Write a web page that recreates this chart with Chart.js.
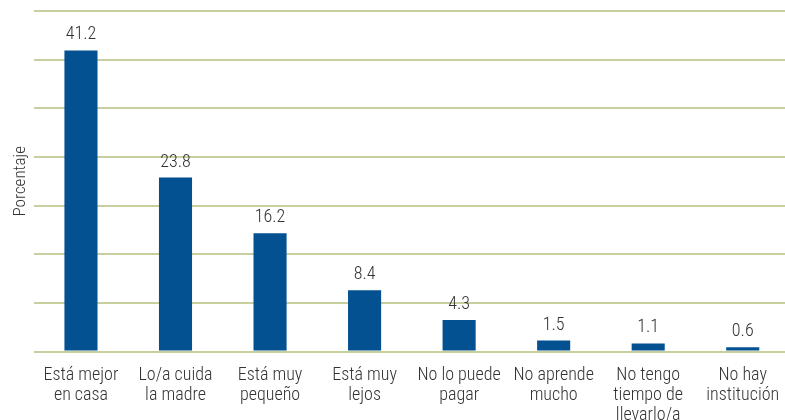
<!DOCTYPE html>
<html>
<head>
<meta charset="utf-8">
<script src="https://cdn.jsdelivr.net/npm/chart.js@4/dist/chart.umd.min.js"></script>
<style>
  html, body { margin: 0; padding: 0; background: #fff; overflow: hidden; }
  #wrap { width: 790px; height: 420px; }
</style>
</head>
<body>
<div id="wrap"><canvas id="razonesChart"></canvas></div>
<script>
// Razones por las que no asiste (porcentaje)
const categorias = [
  ['Está mejor', 'en casa'],
  ['Lo/a cuida', 'la madre'],
  ['Está muy', 'pequeño'],
  ['Está muy', 'lejos'],
  ['No lo puede', 'pagar'],
  ['No aprende', 'mucho'],
  ['No tengo', 'tiempo de', 'llevarlo/a'],
  ['No hay', 'institución']
];
const porcentajes = [41.2, 23.8, 16.2, 8.4, 4.3, 1.5, 1.1, 0.6];
const ejeMax = 46.6;     // tope del eje (sin etiquetas)
const lineasGuia = 7;    // intervalos entre lineas horizontales

const fuente = "'Roboto Condensed', 'Liberation Sans Narrow', 'DejaVu Sans Condensed', sans-serif";

// escribe el valor encima de cada barra
const etiquetasValor = {
  id: 'etiquetasValor',
  afterDatasetsDraw(chart) {
    const ctx = chart.ctx;
    const meta = chart.getDatasetMeta(0);
    ctx.save();
    ctx.font = '300 18px ' + fuente;
    ctx.fillStyle = '#333333';
    ctx.textAlign = 'center';
    ctx.textBaseline = 'alphabetic';
    meta.data.forEach(function (bar, i) {
      ctx.fillText(porcentajes[i].toFixed(1), bar.x, bar.y - 11);
    });
    ctx.restore();
  }
};

document.addEventListener('DOMContentLoaded', function () {
  const ctx = document.getElementById('razonesChart').getContext('2d');

  new Chart(ctx, {
    type: 'bar',
    data: {
      labels: categorias,
      datasets: [{
        data: porcentajes,
        backgroundColor: '#035191',
        barPercentage: 0.35,
        categoryPercentage: 1
      }]
    },
    options: {
      responsive: true,
      maintainAspectRatio: false,
      animation: false,
      layout: { padding: { top: 11, left: 4, right: 0, bottom: -12 } },
      plugins: {
        legend: { display: false },
        tooltip: { enabled: false }
      },
      scales: {
        x: {
          grid: { display: false },
          border: { display: false },
          ticks: {
            color: '#333333',
            padding: 6,
            maxRotation: 0,
            autoSkip: false,
            font: { family: fuente, size: 18, weight: 300, lineHeight: 1.12 }
          }
        },
        y: {
          min: 0,
          max: ejeMax,
          afterBuildTicks(scale) {
            const t = [];
            for (let i = 0; i <= lineasGuia; i++) t.push({ value: ejeMax * i / lineasGuia });
            scale.ticks = t;
          },
          grid: { color: '#c8cf9f', lineWidth: 2, drawTicks: false },
          border: { display: false },
          ticks: { display: false },
          title: {
            display: true,
            text: 'Porcentaje',
            color: '#333333',
            padding: { top: 7, bottom: 4 },
            font: { family: fuente, size: 17, weight: 300, lineHeight: 1.1 }
          }
        }
      }
    },
    plugins: [etiquetasValor]
  });
});
</script>
</body>
</html>
